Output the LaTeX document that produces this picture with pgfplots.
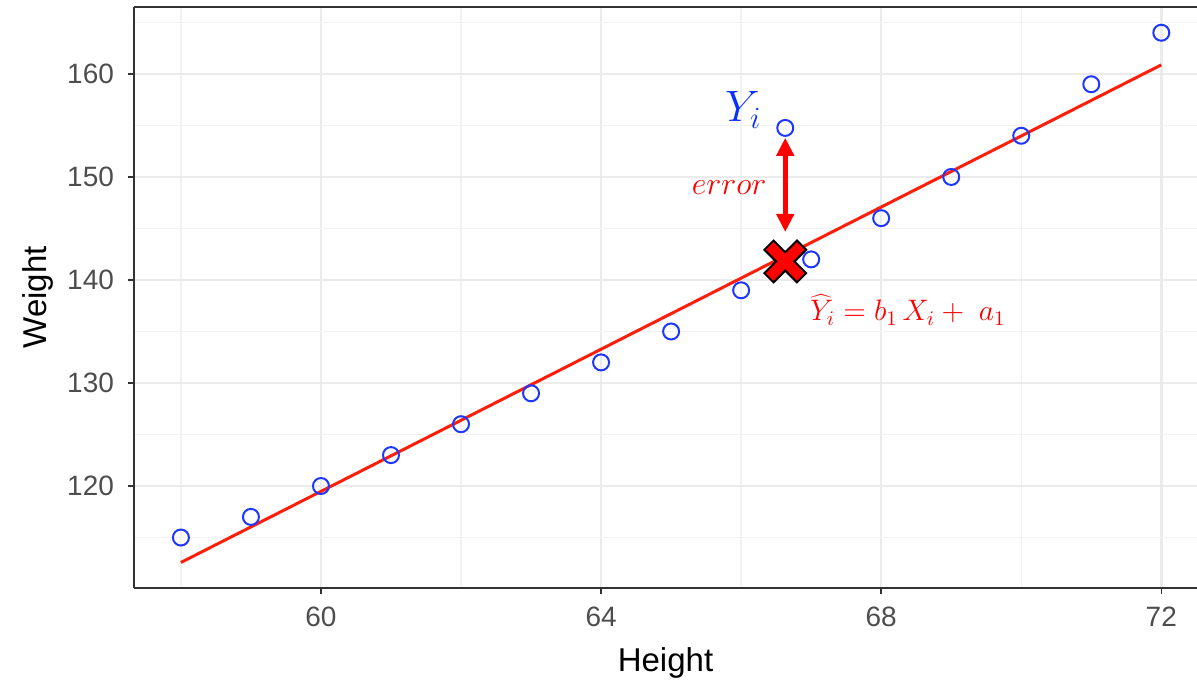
\documentclass[border=0pt]{standalone}
\usepackage{fix-cm}
\usepackage{pgfplots}
\pgfplotsset{compat=1.18}
\usepackage{fontspec}
\setmainfont{Liberation Sans}
\usetikzlibrary{arrows.meta}
\definecolor{ptblue}{RGB}{30,55,255}
\definecolor{txblue}{RGB}{10,50,255}
\definecolor{axgray}{RGB}{51,51,51}
\definecolor{tkgray}{RGB}{77,77,77}
\definecolor{gridmaj}{RGB}{235,235,235}
\definecolor{gridmin}{RGB}{242,242,242}
\definecolor{fitred}{RGB}{255,30,10}
\begin{document}
\begin{tikzpicture}
\begin{axis}[
  scale only axis, width=531.5pt, height=290.5pt,
  xmin=57.33, xmax=72.51, ymin=110.1, ymax=166.5,
  axis x line*=bottom, axis y line*=left,
  axis line style={color=axgray, line width=0.8pt, -},
  xtick={60,64,68,72}, ytick={120,130,140,150,160},
  minor xtick={58,62,66,70}, minor ytick={115,125,135,145,155,165},
  grid=both,
  major grid style={gridmaj, line width=1.2pt},
  minor grid style={gridmin, line width=0.7pt},
  tick align=outside, major tick length=3pt, minor tick length=0pt,
  tick style={axgray, line width=0.8pt},
  ticklabel style={font=\fontsize{14}{14}\selectfont, text=tkgray},
  xticklabel style={yshift=-3pt},
  yticklabel style={xshift=-3.5pt},
  /pgf/number format/assume math mode=true,
  xlabel=Height, ylabel=Weight,
  label style={font=\fontsize{16.5}{16.5}\selectfont, text=black},
  xlabel style={at={(axis description cs:0.5,-0.129)}, anchor=center},
  ylabel style={at={(axis description cs:-0.090,0.5)}, anchor=center},
  clip=false,
]
\addplot[only marks, mark=o, mark size=4pt, mark options={draw=ptblue, line width=1pt}] coordinates {
  (58,115) (59,117) (60,120) (61,123) (62,126) (63,129) (64,132) (65,135)
  (66,139) (67,142) (68,146) (69,150) (70,154) (71,159) (72,164)
  (66.63,154.76)
};
\addplot[fitred, line width=1.5pt] coordinates {(58,112.58) (72,160.88)};
\addplot[only marks, mark=x, mark size=12pt, mark options={draw=black, line width=7.5pt}] coordinates {(66.63,141.8)};
\addplot[only marks, mark=x, mark size=11pt, mark options={draw=red, line width=5.3pt}] coordinates {(66.63,141.8)};
\draw[{Triangle[width=8.5pt,length=9pt]}-{Triangle[width=8.5pt,length=9pt]}, red, line width=2.5pt]
  (axis cs:66.63,153.8) -- (axis cs:66.63,144.66);
\node[text=txblue, font=\fontsize{22}{22}\selectfont] at (axis cs:66.03,156.5) {$Y_i$};
\node[text=red, font=\fontsize{16}{16}\selectfont] at (axis cs:65.83,149.0) {$error$};
\node[text=red, font=\fontsize{14.8}{14.8}\selectfont, inner sep=1pt] at (axis cs:68.38,137.1) {$\widehat{Y}_i = b_1\,X_i +\; a_1$};
\draw[axgray, line width=0.8pt] (rel axis cs:0,1) -- (rel axis cs:1,1);
\coordinate (SW) at (rel axis cs:0,0);
\coordinate (NE) at (rel axis cs:1,1);
\end{axis}
\pgfresetboundingbox
\path[use as bounding box] ([xshift=-67pt,yshift=-48.5pt]SW) rectangle ([yshift=3.5pt]NE);
\end{tikzpicture}
\end{document}
